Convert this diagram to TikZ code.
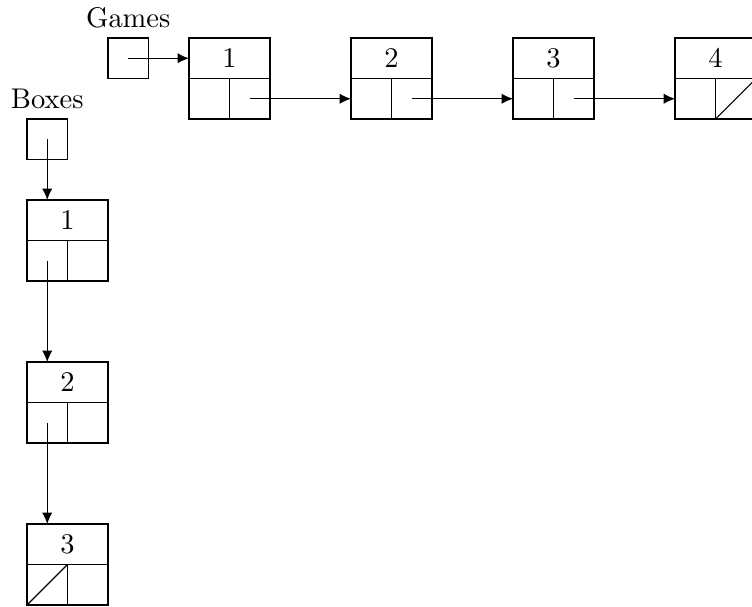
\documentclass[tikz,border=0pt]{standalone}
\usetikzlibrary{arrows.meta}
\begin{document}
\begin{tikzpicture}[
  cell/.style={draw, rectangle, minimum width=0.5cm, minimum height=0.5cm, inner sep=0pt, outer sep=0pt},
  head/.style={draw, rectangle, minimum width=1cm, minimum height=0.5cm, inner sep=0pt, outer sep=0pt},
  ptr/.style={-{Latex[length=4pt,width=3.6pt]}},
  nil/.style={line width=0.4pt}
]
\useasboundingbox (-0.333,0.469) rectangle (8.95,-7.012);

% pointer to the list of games
\node[cell] (gp) at (1.25,-0.25) {};
\node[above] (glabel) at (gp.north) {Games};

% list of games
\foreach \k [evaluate=\k as \x using {2.5+2*(\k-1)}] in {1,2,3,4} {
  \node[head] (g\k t) at (\x,-0.25) {\k};
  \node[cell] (g\k l) at (\x-0.25,-0.75) {};
  \node[cell] (g\k r) at (\x+0.25,-0.75) {};
}
\draw[ptr] (gp.center) -- (g1t.west);
\draw[ptr] (g1r.center) -- (g2l.west);
\draw[ptr] (g2r.center) -- (g3l.west);
\draw[ptr] (g3r.center) -- (g4l.west);
\draw[nil] (g4r.south west) -- (g4r.north east);

% pointer to the list of boxes
\node[cell] (bp) at (0.25,-1.25) {};
\node[above] (blabel) at (bp.north) {Boxes};

% list of boxes
\foreach \k [evaluate=\k as \y using {-2.25-2*(\k-1)}] in {1,2,3} {
  \node[head] (b\k t) at (0.5,\y) {\k};
  \node[cell] (b\k l) at (0.25,\y-0.5) {};
  \node[cell] (b\k r) at (0.75,\y-0.5) {};
}
\draw[ptr] (bp.center) -- (bp.center |- b1t.north);
\draw[ptr] (b1l.center) -- (b1l.center |- b2t.north);
\draw[ptr] (b2l.center) -- (b2l.center |- b3t.north);
\draw[nil] (b3l.south west) -- (b3l.north east);
\end{tikzpicture}
\end{document}
